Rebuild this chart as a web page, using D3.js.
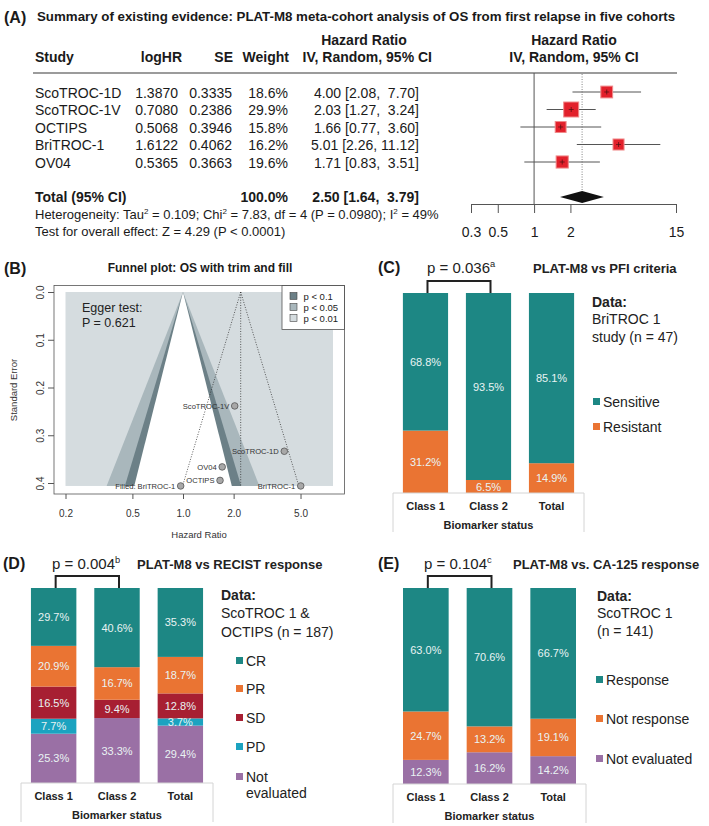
<!DOCTYPE html>
<html lang="en">
<head>
<meta charset="utf-8">
<title>PLAT-M8 evidence summary</title>
<script src="https://cdn.jsdelivr.net/npm/d3@7"></script>
<style>
body { margin: 0; background: #fff; }
svg text { font-family: "Liberation Sans", Arial, sans-serif; white-space: pre; }
</style>
</head>
<body>
<div id="chart"></div>
<script>
// ---- panel A: forest plot data ----
var studies = ["ScoTROC-1D", "ScoTROC-1V", "OCTIPS", "BriTROC-1", "OV04"];
var logHR = [1.3870, 0.7080, 0.5068, 1.6122, 0.5365];
var seLog = [0.3335, 0.2386, 0.3946, 0.4062, 0.3663];
var weights = [18.6, 29.9, 15.8, 16.2, 19.6];
var totalWeight = 100.0;
var hr = [4.00, 2.03, 1.66, 5.01, 1.71];
var ciLow = [2.08, 1.27, 0.77, 2.26, 0.83];
var ciHigh = [7.70, 3.24, 3.60, 11.12, 3.51];
var pooled = [2.50, 1.64, 3.79];   // HR, lower, upper
var forestTicks = [0.3, 0.5, 1, 2, 15];

// ---- panel B: funnel plot ----
var funnelTicksX = [0.2, 0.5, 1.0, 2.0, 5.0];
var funnelTicksY = [0.0, 0.1, 0.2, 0.3, 0.4];
var filledNames = ["Filled: BriTROC-1"];
var filledLogHR = [-0.032];
var filledSE = [0.4062];
var trimFillLog = 0.79;
var contourZ = [2.576, 1.96, 1.645];
var contourLabels = ["p < 0.1", "p < 0.05", "p < 0.01"];

// ---- panels C-E: stacked bars ----
var barCats = ["Class 1", "Class 2", "Total"];
var pfiGroups = ["Sensitive", "Resistant"];
var pfiValues = [[68.8, 93.5, 85.1], [31.2, 6.5, 14.9]];
var recistGroups = ["CR", "PR", "SD", "PD", "Not evaluated"];
var recistValues = [[29.7, 40.6, 35.3], [20.9, 16.7, 18.7], [16.5, 9.4, 12.8], [7.7, 0, 3.7], [25.3, 33.3, 29.4]];
var ca125Groups = ["Response", "Not response", "Not evaluated"];
var ca125Values = [[63.0, 70.6, 66.7], [24.7, 13.2, 19.1], [12.3, 16.2, 14.2]];

var teal = "#1d8784", orange = "#ea7433", red = "#a71f32", cyan = "#1ba3c0", purple = "#9a70a5";

var W = 709, H = 826;
var svg = d3.select("#chart").append("svg").attr("width", W).attr("height", H);
svg.append("rect").attr("width", W).attr("height", H).attr("fill", "#fff");

function label(g, x, y, s, size, opts) {
	opts = opts || {};
	return g.append("text")
		.attr("x", x).attr("y", y)
		.attr("font-size", size + "px")
		.attr("font-weight", opts.bold ? "bold" : "normal")
		.attr("text-anchor", opts.anchor || "start")
		.attr("fill", opts.fill || "#1a1a1a")
		.text(s);
}

function supText(g, x, y, size, parts, opts) {
	var t = label(g, x, y, "", size, opts);
	parts.forEach(function(p) {
		if (p[1]) {
			t.append("tspan").attr("dy", -size * 0.4).attr("font-size", size * 0.62 + "px").text(p[0]);
		} else {
			t.append("tspan").attr("dy", p[2] || 0).text(p[0]);
		}
	});
	return t;
}

////////////////// (A)
var pA = svg.append("g");
label(pA, 4, 23, "(A)", 16, {bold: true});
label(pA, 37, 21, "Summary of existing evidence: PLAT-M8 meta-cohort analysis of OS from first relapse in five cohorts", 13.3, {bold: true});

label(pA, 364, 45, "Hazard Ratio", 14, {bold: true, anchor: "middle"});
label(pA, 574, 45, "Hazard Ratio", 14, {bold: true, anchor: "middle"});
label(pA, 574, 62, "IV, Random, 95% CI", 14, {bold: true, anchor: "middle"});
label(pA, 35, 62, "Study", 14, {bold: true});
label(pA, 182, 62, "logHR", 14, {bold: true, anchor: "end"});
label(pA, 233, 62, "SE", 14, {bold: true, anchor: "end"});
label(pA, 289, 62, "Weight", 14, {bold: true, anchor: "end"});
label(pA, 432, 62, "IV, Random, 95% CI", 14, {bold: true, anchor: "end"});

pA.append("line").attr("x1", 33).attr("x2", 677).attr("y1", 73).attr("y2", 73)
	.attr("stroke", "#7a7a7a").attr("stroke-width", 1.5);

function ciText(h, l, u) {
	return h.toFixed(2) + " [" + l.toFixed(2) + ", " + (u < 10 ? " " : "") + u.toFixed(2) + "]";
}

var rowY = d3.scaleLinear().domain([0, studies.length - 1]).range([92, 162]);
studies.forEach(function(s, i) {
	var y = rowY(i) + 5.5;
	label(pA, 35, y, s, 14);
	label(pA, 178, y, logHR[i].toFixed(4), 14, {anchor: "end"});
	label(pA, 232, y, seLog[i].toFixed(4), 14, {anchor: "end"});
	label(pA, 288, y, weights[i].toFixed(1) + "%", 14, {anchor: "end"});
	label(pA, 419, y, ciText(hr[i], ciLow[i], ciHigh[i]), 14, {anchor: "end"});
});
label(pA, 35, 202, "Total (95% CI)", 14, {bold: true});
label(pA, 288, 202, totalWeight.toFixed(1) + "%", 14, {bold: true, anchor: "end"});
label(pA, 419, 202, ciText(pooled[0], pooled[1], pooled[2]), 14, {bold: true, anchor: "end"});
supText(pA, 35, 219, 13, [["Heterogeneity: Tau"], ["2", 1], [" = 0.109; Chi", 0, 13 * 0.4], ["2", 1], [" = 7.83, df = 4 (P = 0.0980); I", 0, 13 * 0.4], ["2", 1], [" = 49%", 0, 13 * 0.4]]);
label(pA, 35, 236, "Test for overall effect: Z = 4.29 (P < 0.0001)", 13);

var xF = d3.scaleLog().domain([0.3, 15]).range([471, 676]);
pA.append("line").attr("x1", xF(1)).attr("x2", xF(1)).attr("y1", 73).attr("y2", 204)
	.attr("stroke", "#555").attr("stroke-width", 1);
pA.append("line").attr("x1", xF(pooled[0])).attr("x2", xF(pooled[0])).attr("y1", 74).attr("y2", 191)
	.attr("stroke", "#666").attr("stroke-width", 0.8).attr("stroke-dasharray", "1,1.5");

pA.selectAll("line.ci")
	.data(studies)
	.enter()
	.append("line")
	.attr("class", "ci")
	.attr("x1", function(d, i) { return xF(ciLow[i]); })
	.attr("x2", function(d, i) { return xF(ciHigh[i]); })
	.attr("y1", function(d, i) { return rowY(i); })
	.attr("y2", function(d, i) { return rowY(i); })
	.attr("stroke", "#555").attr("stroke-width", 1);

pA.selectAll("rect.sq")
	.data(studies)
	.enter()
	.append("rect")
	.attr("class", "sq")
	.attr("x", function(d, i) { return xF(hr[i]) - 1.37 * Math.sqrt(weights[i]); })
	.attr("y", function(d, i) { return rowY(i) - 1.37 * Math.sqrt(weights[i]); })
	.attr("width", function(d, i) { return 2.74 * Math.sqrt(weights[i]); })
	.attr("height", function(d, i) { return 2.74 * Math.sqrt(weights[i]); })
	.attr("fill", "#e2202b").attr("stroke", "#f08a8a").attr("stroke-width", 1);

pA.selectAll("path.tick")
	.data(studies)
	.enter()
	.append("path")
	.attr("class", "tick")
	.attr("d", function(d, i) {
		var x = xF(hr[i]), y = rowY(i);
		return "M" + (x - 2.5) + "," + y + "H" + (x + 2.5) + "M" + x + "," + (y - 2.5) + "V" + (y + 2.5);
	})
	.attr("stroke", "#4a1010").attr("stroke-width", 0.7);

pA.append("path")
	.attr("d", "M" + xF(pooled[1]) + ",197L" + xF(pooled[0]) + ",191L" + xF(pooled[2]) + ",197L" + xF(pooled[0]) + ",203Z")
	.attr("fill", "#111");

var axA = pA.append("g").attr("transform", "translate(0,204)")
	.call(d3.axisBottom(xF).tickValues(forestTicks).tickFormat(function(d) { return String(d); })
		.tickSize(9).tickSizeOuter(0).tickPadding(14));
axA.selectAll("path, line").attr("stroke", "#555");
axA.selectAll("text").attr("font-size", "14px").attr("fill", "#1a1a1a")
	.attr("font-family", "Liberation Sans, Arial, sans-serif");

////////////////// (B)
var pB = svg.append("g");
label(pB, 4, 274, "(B)", 16, {bold: true});
label(pB, 200, 272, "Funnel plot: OS with trim and fill", 12, {bold: true, anchor: "middle"});

var seMax = d3.max(seLog);
var xFun = d3.scaleLog().domain([0.2, 7.8]).range([65.5, 333]);
var yFun = d3.scaleLinear().domain([0, 0.4]).range([292, 483]);
var shade = ["#d5dcdf", "#a9b7bc", "#6c8087", "#ffffff"];

pB.append("rect").attr("x", xFun(0.2)).attr("y", yFun(0))
	.attr("width", xFun(7.8) - xFun(0.2)).attr("height", yFun(seMax) - yFun(0))
	.attr("fill", shade[0]);

pB.selectAll("path.contour")
	.data(contourZ)
	.enter()
	.append("path")
	.attr("class", "contour")
	.attr("d", function(z) {
		return "M" + xFun(Math.exp(-z * seMax)) + "," + yFun(seMax) +
			"L" + xFun(1) + "," + yFun(0) +
			"L" + xFun(Math.exp(z * seMax)) + "," + yFun(seMax) + "Z";
	})
	.attr("fill", function(z, i) { return shade[i + 1]; });

// trim-and-fill pseudo confidence region
var dotted = [
	[[trimFillLog, 0], [trimFillLog - 1.96 * seMax, seMax]],
	[[trimFillLog, 0], [trimFillLog + 1.96 * seMax, seMax]],
	[[trimFillLog, 0], [trimFillLog, seMax]]
];
pB.selectAll("line.ps")
	.data(dotted)
	.enter()
	.append("line")
	.attr("class", "ps")
	.attr("x1", function(d) { return xFun(Math.exp(d[0][0])); })
	.attr("y1", function(d) { return yFun(d[0][1]); })
	.attr("x2", function(d) { return xFun(Math.exp(d[1][0])); })
	.attr("y2", function(d) { return yFun(d[1][1]); })
	.attr("stroke", "#333").attr("stroke-width", 0.8).attr("stroke-dasharray", "1,1.6");

var funPts = studies.map(function(s, i) { return {name: s, l: logHR[i], se: seLog[i]}; })
	.concat(filledNames.map(function(s, i) { return {name: s, l: filledLogHR[i], se: filledSE[i]}; }));

pB.selectAll("circle")
	.data(funPts)
	.enter()
	.append("circle")
	.attr("cx", function(d) { return xFun(Math.exp(d.l)); })
	.attr("cy", function(d) { return yFun(d.se); })
	.attr("r", 3.3)
	.attr("fill", "#a8a8a8").attr("stroke", "#555").attr("stroke-width", 0.8);

pB.selectAll("text.pt")
	.data(funPts)
	.enter()
	.append("text")
	.attr("class", "pt")
	.attr("x", function(d) { return xFun(Math.exp(d.l)) - 5.5; })
	.attr("y", function(d) { return yFun(d.se) + 2.7; })
	.attr("text-anchor", "end")
	.attr("font-size", "7.6px")
	.attr("fill", "#333")
	.text(function(d) { return d.name; });

label(pB, 82, 311.5, "Egger test:", 12.5, {fill: "#222"});
label(pB, 82, 327, "P = 0.621", 12.5, {fill: "#222"});

var lg = pB.append("g");
lg.append("rect").attr("x", 282).attr("y", 285.5).attr("width", 62.5).attr("height", 44)
	.attr("fill", "#fff").attr("stroke", "#555").attr("stroke-width", 0.8);
contourLabels.forEach(function(s, i) {
	lg.append("rect").attr("x", 290).attr("y", 292.5 + i * 11).attr("width", 7).attr("height", 7)
		.attr("fill", shade[2 - i]).attr("stroke", "#444").attr("stroke-width", 0.6);
	label(lg, 303.5, 299.5 + i * 11, s, 9.5, {fill: "#222"});
});

pB.append("rect").attr("x", 54).attr("y", 285.5).attr("width", 290.5).attr("height", 208.5)
	.attr("fill", "none").attr("stroke", "#555").attr("stroke-width", 0.8);

var axBx = pB.append("g").attr("transform", "translate(0,494)")
	.call(d3.axisBottom(xFun).tickValues(funnelTicksX).tickFormat(d3.format(".1f"))
		.tickSize(5).tickSizeOuter(0).tickPadding(11));
axBx.select(".domain").remove();
axBx.selectAll("line").attr("stroke", "#555");
axBx.selectAll("text").attr("font-size", "10px").attr("fill", "#333");

var axBy = pB.append("g").attr("transform", "translate(54,0)")
	.call(d3.axisLeft(yFun).tickValues(funnelTicksY).tickFormat(d3.format(".1f")).tickSize(6).tickSizeOuter(0));
axBy.select(".domain").remove();
axBy.selectAll("line").attr("stroke", "#555");
axBy.selectAll("text").attr("font-size", "10px").attr("fill", "#333")
	.attr("x", 0).attr("y", -10).attr("dy", 0).attr("text-anchor", "middle")
	.attr("transform", "rotate(-90)");

label(pB, 199, 538, "Hazard Ratio", 9.5, {anchor: "middle", fill: "#333"});
label(pB, 0, 0, "Standard Error", 9.5, {anchor: "middle", fill: "#333"})
	.attr("transform", "translate(17,390) rotate(-90)");

////////////////// stacked bar panels
function drawStack(g, cfg) {
	var x = d3.scaleBand().domain(barCats).range([cfg.left, cfg.right]).paddingInner(0.283).paddingOuter(0.157);
	var y = d3.scaleLinear().domain([0, 1]).range([cfg.bottom, cfg.top]);
	var rows = barCats.map(function(c, j) {
		var o = {cat: c};
		cfg.keys.forEach(function(k, i) { o[k] = cfg.values[i][j]; });
		return o;
	});
	var series = d3.stack().keys(cfg.keys.slice().reverse()).offset(d3.stackOffsetExpand)(rows);
	var color = d3.scaleOrdinal().domain(cfg.keys).range(cfg.colors);

	var layers = g.selectAll("g.layer")
		.data(series)
		.enter()
		.append("g")
		.attr("class", "layer")
		.attr("fill", function(d) { return color(d.key); });
	layers.selectAll("rect")
		.data(function(d) { return d; })
		.enter()
		.append("rect")
		.attr("x", function(d) { return x(d.data.cat); })
		.attr("y", function(d) { return y(d[1]); })
		.attr("width", x.bandwidth())
		.attr("height", function(d) { return y(d[0]) - y(d[1]); });

	series.forEach(function(s) {
		s.forEach(function(d) {
			var v = d.data[s.key];
			if (v > 0) {
				label(g, x(d.data.cat) + x.bandwidth() / 2, (y(d[0]) + y(d[1])) / 2 + 4, v.toFixed(1) + "%", 11,
					{anchor: "middle", fill: "#e9f3f3"});
			}
		});
	});

	// category frame
	var fc = "#d4d4d4";
	g.append("path")
		.attr("d", "M" + cfg.left + "," + (cfg.bottom + 39) + "V" + cfg.bottom + "H" + cfg.right + "V" + (cfg.bottom + 39))
		.attr("fill", "none").attr("stroke", fc).attr("stroke-width", 1);
	barCats.forEach(function(c) {
		label(g, x(c) + x.bandwidth() / 2, cfg.bottom + 17, c, 11, {bold: true, anchor: "middle", fill: "#222"});
	});
	label(g, (cfg.left + cfg.right) / 2, cfg.bottom + 36, "Biomarker status", 11, {bold: true, anchor: "middle", fill: "#222"});

	// significance bracket
	var b1 = x(barCats[0]) + x.bandwidth() / 2 + 2, b2 = x(barCats[1]) + x.bandwidth() / 2 + 2;
	g.append("path")
		.attr("d", "M" + b1 + "," + cfg.top + "V" + (cfg.top - 12) + "H" + b2 + "V" + cfg.top)
		.attr("fill", "none").attr("stroke", "#222").attr("stroke-width", 2);

	// header
	var hy = cfg.titleY;
	label(g, cfg.tagX, hy, cfg.tag, 16, {bold: true});
	supText(g, cfg.pX, hy, 15, [[cfg.p], [cfg.sup, 1]], {fill: "#222"});
	label(g, cfg.titleX, hy, cfg.title, 13, {bold: true, fill: "#222"});

	// legend
	cfg.dataLines.forEach(function(s, i) {
		label(g, cfg.dataX, cfg.dataY[i], s, 14, {bold: i === 0, fill: "#222"});
	});
	cfg.keys.forEach(function(k, i) {
		var yy = cfg.itemY[i];
		g.append("rect").attr("x", cfg.itemX).attr("y", yy - 9).attr("width", 7).attr("height", 7).attr("fill", color(k));
		var words = cfg.wrap && k.indexOf(" ") > 0 ? k.split(" ") : [k];
		words.forEach(function(w, j) {
			label(g, cfg.itemX + 10, yy + j * 16, w, 14, {fill: "#222"});
		});
	});
}

drawStack(svg.append("g"), {
	left: 393, right: 584, top: 293, bottom: 493,
	keys: pfiGroups, values: pfiValues, colors: [teal, orange],
	titleY: 272.5, tag: "(C)", tagX: 378, p: "p = 0.036", sup: "a", pX: 427,
	title: "PLAT-M8 vs PFI criteria", titleX: 533,
	dataX: 592, dataLines: ["Data:", "BriTROC 1", "study (n = 47)"], dataY: [307, 324, 342],
	itemX: 593, itemY: [407, 432]
});

drawStack(svg.append("g"), {
	left: 21, right: 213, top: 588, bottom: 783,
	keys: recistGroups, values: recistValues, colors: [teal, orange, red, cyan, purple],
	titleY: 569, tag: "(D)", tagX: 3, p: "p = 0.004", sup: "b", pX: 52,
	title: "PLAT-M8 vs RECIST response", titleX: 137,
	dataX: 221, dataLines: ["Data:", "ScoTROC 1 &", "OCTIPS (n = 187)"], dataY: [600, 618, 637],
	itemX: 236, itemY: [666, 694, 723, 752, 782], wrap: true
});

drawStack(svg.append("g"), {
	left: 393, right: 586, top: 588, bottom: 784,
	keys: ca125Groups, values: ca125Values, colors: [teal, orange, purple],
	titleY: 569, tag: "(E)", tagX: 378, p: "p = 0.104", sup: "c", pX: 424,
	title: "PLAT-M8 vs. CA-125 response", titleX: 513,
	dataX: 597, dataLines: ["Data:", "ScoTROC 1", "(n = 141)"], dataY: [601, 618, 636],
	itemX: 596, itemY: [685, 724, 764]
});
</script>
</body>
</html>
